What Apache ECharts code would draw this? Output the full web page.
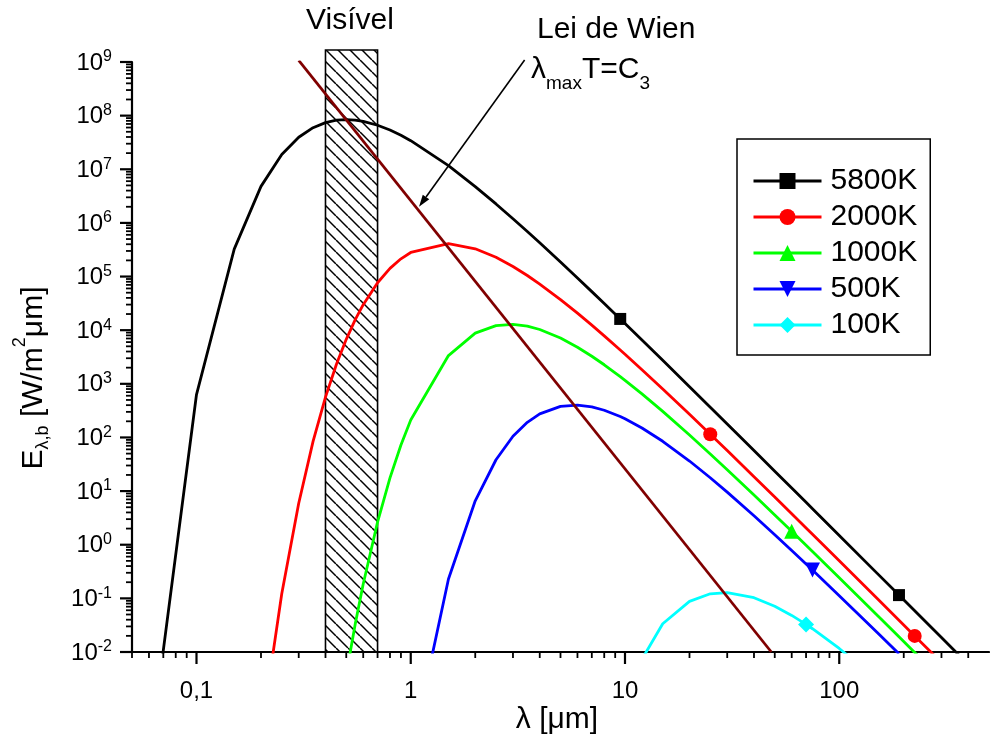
<!DOCTYPE html>
<html><head><meta charset="utf-8">
<script src="https://cdn.jsdelivr.net/npm/echarts@6/dist/echarts.min.js"></script>
<style>html,body{margin:0;padding:0;background:#fff}#c{width:990px;height:748px}</style>
</head><body><div id="c"></div>
<script>
const FONT = "'Liberation Sans', Arial, Helvetica, sans-serif";

// wavelength samples (µm)
const lambda = [0.05, 0.1, 0.15, 0.2, 0.25, 0.3, 0.35, 0.4, 0.45, 0.5, 0.55, 0.6, 0.7, 0.8, 0.9, 1,
  1.5, 2, 2.5, 3, 3.5, 4, 5, 6, 7, 8, 9.5, 10, 12, 15, 20, 25, 30, 40, 50, 60, 70, 75, 100, 150, 190, 225, 300, 400];

// spectral emissive power E (W/m²µm) read for each temperature
const E5800 = [3.4e-7, 631, 3.24e5, 4.80e6, 1.879e7, 3.951e7, 5.957e7, 7.416e7, 8.214e7, 8.444e7, 8.268e7, 7.83e7, 6.625e7, 5.382e7, 4.299e7, 3.417e7,
  1.166e7, 4.76e6, 2.258e6, 1.1975e6, 6.907e5, 4.252e5, 1.864e5, 9.398e4, 5.235e4, 3.141e4, 1.6206e4, 1.329e4, 6547, 2741, 885.4, 367.3, 178.6, 57.11, 23.54, 11.40, 6.172, 4.689, 1.490, 0.2955, 0.115, 0.05853, 0.01855, 5.874e-3];
const E2000 = [null, null, null, 2.79e-4, 0.122, 5.937, 84.37, 564.8, 2312, 6754, 1.5516e4, 2.986e4, 7.662e4, 1.42e5, 2.141e5, 2.813e5,
  4.106e5, 3.295e5, 2.285e5, 1.540e5, 1.046e5, 7.25e4, 3.723e4, 2.077e4, 1.2407e4, 7834, 4271, 3553, 1831, 800.8, 270.1, 114.9, 56.83, 18.55, 7.738, 3.778, 2.057, 1.566, 0.5017, 0.1003, 0.03916, 0.01997, 6.345e-3, null];
const E1000 = [null, null, null, null, null, null, null, null, 2.64e-4, 3.81e-3, 0.03237, 0.1855, 2.636, 17.65, 72.26, 211.1,
  3365, 8790, 1.2173e4, 1.283e4, 1.1875e4, 1.0296e4, 7140, 4812, 3269, 2266, 1363, 1163.6, 649.0, 306.1, 111.0, 49.25, 25.02, 8.441, 3.590, 1.776, 0.9758, 0.7457, 0.2418, 0.04895, 0.01921, 9.826e-3, 3.134e-3, null];
const E500 = [null, null, null, null, null, null, null, null, null, null, null, null, null, null, null, 1.19e-4,
  0.2296, 6.596, 38.41, 105.2, 191.5, 274.7, 380.4, 400.9, 371.1, 321.8, 245.7, 223.1, 150.4, 84.8, 36.36, 17.73, 9.567, 3.469, 1.539, 0.7819, 0.4379, 0.3372, 0.1122, 0.0233, 9.243e-3, null, null, null];
const E100 = [null, null, null, null, null, null, null, null, null, null, null, null, null, null, null, null,
  null, null, null, null, null, null, null, null, null, null, null, 2.11e-3, null, 0.03365, 0.0879, 0.1217, 0.1283, 0.1030, 0.0714, 0.04812, 0.0327, 0.02714, 0.01164, 3.061e-3, null, null, null, null];

const seriesNames = ['5800K', '2000K', '1000K', '500K', '100K'];
const markerAt = [[9.5, 190], [25, 225], [60], [75], [70]];

// Wien's displacement line end points and visible band
const wienLine = [[0.3, 1.07e9], [48.2, 0.01]];
const visibleBand = [[0.4, 0.7, 0.01, 1.67e9]];
const arrowFrom = [3.4, 1.09e9];
const arrowTo = [1.093, 2.0e6];

// axis ticks
const X_MIN = 0.05, X_MAX = 500, Y_MIN = 0.01, Y_MAX = 1e9;
const xMajorTicks = [0.1, 1, 10, 100];
const xTickLabels = ['0,1', '1', '10', '100'];
const xMinorTicks = [0.05, 0.06, 0.07, 0.08, 0.09, 0.2, 0.3, 0.4, 0.5, 0.6, 0.7, 0.8, 0.9,
  2, 3, 4, 5, 6, 7, 8, 9, 20, 30, 40, 50, 60, 70, 80, 90, 200, 300, 400];
const yExponents = [-2, -1, 0, 1, 2, 3, 4, 5, 6, 7, 8, 9];
const yMinorFactors = [2, 3, 4, 5, 6, 7, 8, 9];

// ---- styles ----
const colors = ['#000000', '#ff0000', '#00ff00', '#0000ff', '#00ffff'];
const symbols = ['rect', 'circle', 'triangle', 'triangle', 'diamond'];
const symbolSizes = [12, 14, 15, 15, 16];
const symbolRotates = [0, 0, 0, 180, 0];
const values = [E5800, E2000, E1000, E500, E100];
const LW = 2.8;

const curveSeries = seriesNames.map((name, i) => ({
  name, type: 'line',
  data: lambda.map((x, j) => values[i][j] == null ? null :
    { value: [x, values[i][j]], symbol: markerAt[i].indexOf(x) >= 0 ? symbols[i] : 'none' }).filter(d => d),
  symbol: symbols[i], symbolSize: symbolSizes[i], symbolRotate: symbolRotates[i],
  showSymbol: true, showAllSymbol: true,
  lineStyle: { color: colors[i], width: LW }, itemStyle: { color: colors[i] },
  clip: true, silent: true, z: 3
}));

function hatchPattern() {
  const s = 12, c = document.createElement('canvas');
  c.width = s; c.height = s;
  const g = c.getContext('2d');
  g.strokeStyle = '#000'; g.lineWidth = 1.5;
  [-1, 0, 1].forEach(k => { g.beginPath(); g.moveTo(k * s, 0); g.lineTo(k * s + s, s); g.stroke(); });
  return c;
}
const pattern = { image: hatchPattern(), repeat: 'repeat' };

const yMinorTicks = [];
yExponents.forEach(e => { if (e < 9) yMinorFactors.forEach(f => yMinorTicks.push(f * Math.pow(10, e))); });
const yMajorTicks = yExponents.map(e => Math.pow(10, e));

const labelRichY = {
  b: { fontSize: 24, lineHeight: 24, fontFamily: FONT, fill: '#000' },
  s: { fontSize: 16, lineHeight: 16, fontFamily: FONT, fill: '#000', padding: [0, 0, 12, 0] }
};

const option = {
  animation: false,
  backgroundColor: '#fff',
  grid: { left: 132, right: 1, top: 62, bottom: 96, containLabel: false, outerBoundsMode: 'none' },
  xAxis: {
    type: 'log', logBase: 10, min: X_MIN, max: X_MAX,
    axisLine: { show: true, lineStyle: { color: '#000', width: 2.2 } },
    axisTick: { show: false }, axisLabel: { show: false }, splitLine: { show: false }, minorTick: { show: false }
  },
  yAxis: {
    type: 'log', logBase: 10, min: Y_MIN, max: Y_MAX,
    axisLine: { show: true, lineStyle: { color: '#000', width: 2.2 } },
    axisTick: { show: false }, axisLabel: { show: false }, splitLine: { show: false }, minorTick: { show: false }
  },
  legend: {
    data: seriesNames, orient: 'vertical', left: 737, top: 139,
    padding: [27, 13, 15, 15], itemGap: 6, itemWidth: 68, itemHeight: 20,
    borderColor: '#000', borderWidth: 1.5, backgroundColor: '#fff', selectedMode: false,
    lineStyle: { width: 3 },
    textStyle: { fontSize: 30, lineHeight: 30, fontFamily: FONT, color: '#000', padding: [0, 0, 0, 4] }
  },
  series: [
    {
      type: 'custom', name: 'visible', data: visibleBand, clip: false, silent: true, z: 1,
      renderItem: (params, api) => {
        const p1 = api.coord([api.value(0), api.value(3)]);
        const p2 = api.coord([api.value(1), api.value(2)]);
        return { type: 'rect', shape: { x: p1[0], y: p1[1], width: p2[0] - p1[0], height: p2[1] - p1[1] },
          style: { fill: pattern, stroke: '#000', lineWidth: 1.6 } };
      }
    },
    ...curveSeries,
    { type: 'line', name: 'wien', data: wienLine, symbol: 'none', clip: true, silent: true, z: 4,
      lineStyle: { color: '#800000', width: LW } },
    {
      type: 'custom', name: 'xticks', data: xMajorTicks.concat(xMinorTicks).map(v => [v, Y_MIN]), clip: false, silent: true, z: 6,
      renderItem: (params, api) => {
        const v = api.value(0), p = api.coord([v, Y_MIN]);
        const k = xMajorTicks.indexOf(v);
        const ch = [{ type: 'line', shape: { x1: p[0], y1: p[1], x2: p[0], y2: p[1] + (k >= 0 ? 12 : 6) },
          style: { stroke: '#000', lineWidth: k >= 0 ? 2.2 : 1.8 } }];
        if (k >= 0) ch.push({ type: 'text', x: p[0], y: p[1] + 39,
          style: { text: xTickLabels[k], fill: '#000', fontSize: 24, fontFamily: FONT, align: 'center', verticalAlign: 'middle' } });
        return { type: 'group', children: ch };
      }
    },
    {
      type: 'custom', name: 'yticks', data: yMajorTicks.concat(yMinorTicks).map(v => [X_MIN, v]), clip: false, silent: true, z: 6,
      renderItem: (params, api) => {
        const v = api.value(1), p = api.coord([X_MIN, v]);
        const k = yMajorTicks.indexOf(v);
        const ch = [{ type: 'line', shape: { x1: p[0], y1: p[1], x2: p[0] - (k >= 0 ? 12 : 6), y2: p[1] },
          style: { stroke: '#000', lineWidth: k >= 0 ? 2.2 : 1.8 } }];
        if (k >= 0) ch.push({ type: 'text', x: p[0] - 20, y: p[1] + 1,
          style: { text: '{b|10}{s|' + yExponents[k] + '}', rich: labelRichY, align: 'right', verticalAlign: 'middle' } });
        return { type: 'group', children: ch };
      }
    }
  ]
};

const chart = echarts.init(document.getElementById('c'));
chart.setOption(option);

const a1 = chart.convertToPixel({ gridIndex: 0 }, arrowFrom);
const a2 = chart.convertToPixel({ gridIndex: 0 }, arrowTo);
const dx = a2[0] - a1[0], dy = a2[1] - a1[1], dl = Math.hypot(dx, dy);
const ux = dx / dl, uy = dy / dl, hl = 12, hw = 4;
const bx = a2[0] - ux * hl, by = a2[1] - uy * hl;

chart.setOption({
  graphic: [
    { type: 'line', shape: { x1: a1[0], y1: a1[1], x2: bx, y2: by }, style: { stroke: '#000', lineWidth: 1.6 }, z: 10 },
    { type: 'polygon', shape: { points: [[a2[0], a2[1]], [bx - uy * hw, by + ux * hw], [bx + uy * hw, by - ux * hw]] }, style: { fill: '#000' }, z: 10 },
    { type: 'text', x: 350, y: 21, style: { text: 'Visível', fontSize: 30, fontFamily: FONT, fill: '#000', align: 'center', verticalAlign: 'middle' }, z: 10 },
    { type: 'text', x: 537, y: 30, style: { text: 'Lei de Wien', fontSize: 30, fontFamily: FONT, fill: '#000', align: 'left', verticalAlign: 'middle' }, z: 10 },
    { type: 'text', x: 531, y: 70, z: 10, style: {
        text: '{m|λ}{s|max}{m|T=C}{s|3}', align: 'left', verticalAlign: 'middle',
        rich: { m: { fontSize: 30, lineHeight: 30, fontFamily: FONT, fill: '#000' },
                s: { fontSize: 19, lineHeight: 19, fontFamily: FONT, fill: '#000', padding: [28, 0, 0, 0] } } } },
    { type: 'text', x: 557, y: 720, z: 10, style: { text: 'λ [μm]', fontSize: 30, fontFamily: FONT, fill: '#000', align: 'center', verticalAlign: 'middle' } },
    { type: 'text', x: 34, y: 378, rotation: Math.PI / 2, z: 10, style: {
        text: '{m|E}{sub|λ,b}{m| [W/m}{sup|2}{m|μm]}', align: 'center', verticalAlign: 'middle',
        rich: { m: { fontSize: 30, lineHeight: 30, fontFamily: FONT, fill: '#000' },
                sub: { fontSize: 18, lineHeight: 18, fontFamily: FONT, fill: '#000', padding: [19, 0, 0, 0] },
                sup: { fontSize: 18, lineHeight: 18, fontFamily: FONT, fill: '#000', padding: [0, 0, 28, 0] } } } }
  ]
});
</script></body></html>
